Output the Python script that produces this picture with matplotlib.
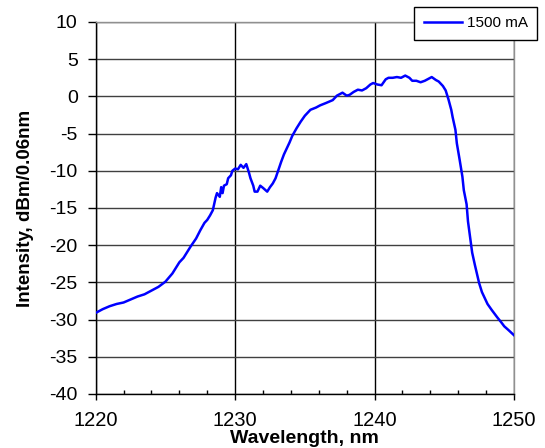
import matplotlib
matplotlib.use("Agg")
import matplotlib.pyplot as plt
from matplotlib.ticker import MultipleLocator

plt.rcParams['font.family'] = ['Liberation Sans', 'DejaVu Sans']
plt.rcParams['axes.unicode_minus'] = False

wavelength = [
    1220.0, 1220.5, 1221.0, 1221.5, 1222.0, 1222.5, 1223.0, 1223.5, 1224.0, 1224.5,
    1225.0, 1225.5, 1226.0, 1226.3, 1226.8, 1227.2, 1227.5, 1227.8, 1228.0, 1228.2,
    1228.4, 1228.6, 1228.7, 1228.9, 1229.0, 1229.1, 1229.2, 1229.4, 1229.5, 1229.7,
    1229.8, 1230.0, 1230.2, 1230.4, 1230.6, 1230.8, 1231.0, 1231.1, 1231.3, 1231.4,
    1231.6, 1231.8, 1232.0, 1232.3, 1232.5, 1232.7, 1232.9, 1233.1, 1233.3, 1233.5,
    1233.7, 1233.9, 1234.1, 1234.4, 1234.7, 1235.0, 1235.4, 1235.8, 1236.1, 1236.5,
    1237.0, 1237.3, 1237.7, 1238.0, 1238.2, 1238.5, 1238.8, 1239.1, 1239.4, 1239.7,
    1239.9, 1240.2, 1240.5, 1240.8, 1241.0, 1241.3, 1241.6, 1241.9, 1242.2, 1242.5,
    1242.7, 1243.0, 1243.3, 1243.6, 1243.9, 1244.1, 1244.4, 1244.6, 1244.9, 1245.1,
    1245.3, 1245.5, 1245.6, 1245.8, 1245.9, 1246.1, 1246.3, 1246.4, 1246.6, 1246.7,
    1246.9, 1247.0, 1247.2, 1247.4, 1247.5, 1247.7, 1247.9, 1248.1, 1248.4, 1248.8,
    1249.1, 1249.3, 1249.6, 1250.0,
]
intensity = [
    -29.1, -28.6, -28.2, -27.9, -27.7, -27.3, -26.9, -26.6, -26.1, -25.6,
    -24.9, -23.8, -22.3, -21.7, -20.2, -19.1, -18.0, -17.0, -16.6, -16.0,
    -15.3, -13.6, -13.0, -13.5, -12.2, -13.0, -12.0, -11.8, -11.0, -10.6,
    -10.0, -9.7, -9.8, -9.2, -9.6, -9.1, -10.3, -11.0, -12.0, -12.8,
    -12.8, -12.0, -12.3, -12.8, -12.2, -11.7, -11.0, -9.9, -8.8, -7.8,
    -7.0, -6.2, -5.3, -4.3, -3.4, -2.6, -1.8, -1.5, -1.2, -0.9,
    -0.5, 0.1, 0.5, 0.1, 0.2, 0.6, 0.9, 0.8, 1.1, 1.6,
    1.8, 1.6, 1.5, 2.3, 2.5, 2.5, 2.6, 2.5, 2.8, 2.5,
    2.1, 2.1, 1.9, 2.1, 2.4, 2.6, 2.2, 2.0, 1.4, 0.8,
    -0.4, -1.8, -2.8, -4.5, -6.3, -8.5, -10.8, -12.6, -14.5, -16.8,
    -19.6, -21.0, -22.7, -24.3, -25.1, -26.3, -27.1, -27.9, -28.7, -29.7,
    -30.4, -30.9, -31.4, -32.1,
]
series_label = "1500 mA"
x_label = "Wavelength, nm"
y_label = "Intensity, dBm/0.06nm"

fig = plt.figure(figsize=(5.45, 4.48), dpi=100)
ax = fig.add_axes([95.7 / 545, 54 / 448, (514 - 95.7) / 545, (394 - 22) / 448])

ax.plot(wavelength, intensity, color='#0000ff', lw=1.8, label=series_label, zorder=3)

ax.set_xlim(1220, 1250)
ax.set_ylim(-40, 10)
ax.xaxis.set_major_locator(MultipleLocator(10))
ax.xaxis.set_minor_locator(MultipleLocator(2))
ax.yaxis.set_major_locator(MultipleLocator(5))

ax.grid(axis='y', which='major', color='#404040', lw=1.0)
ax.grid(axis='x', which='major', color='#000000', lw=1.0)
ax.set_axisbelow(True)

for s in ('top', 'right'):
    ax.spines[s].set_color('#909090')
    ax.spines[s].set_linewidth(1.0)
for s in ('left', 'bottom'):
    ax.spines[s].set_color('#000000')
    ax.spines[s].set_linewidth(1.0)

ax.tick_params(axis='both', which='major', direction='out', width=1, color='black')
ax.tick_params(axis='x', which='major', length=4.5, labelsize=14.5, pad=8)
ax.tick_params(axis='y', which='major', length=6, labelsize=14, pad=7)
ax.tick_params(axis='x', which='minor', direction='in', length=3, width=1)

ax.set_xlabel(x_label, fontsize=14, fontweight='bold', labelpad=0)
ax.set_ylabel(y_label, fontsize=13.5, fontweight='bold', labelpad=11)

fig.legend(loc='upper right', bbox_to_anchor=(537 / 545, 1 - 7 / 448),
           bbox_transform=fig.transFigure, fontsize=11, frameon=True,
           fancybox=False, edgecolor='black', framealpha=1, borderaxespad=0,
           handlelength=2.5, handletextpad=0.3, borderpad=0.62)
leg = fig.legends[0]
leg.get_frame().set_linewidth(1.0)

fig.savefig('out.png', dpi=100)
